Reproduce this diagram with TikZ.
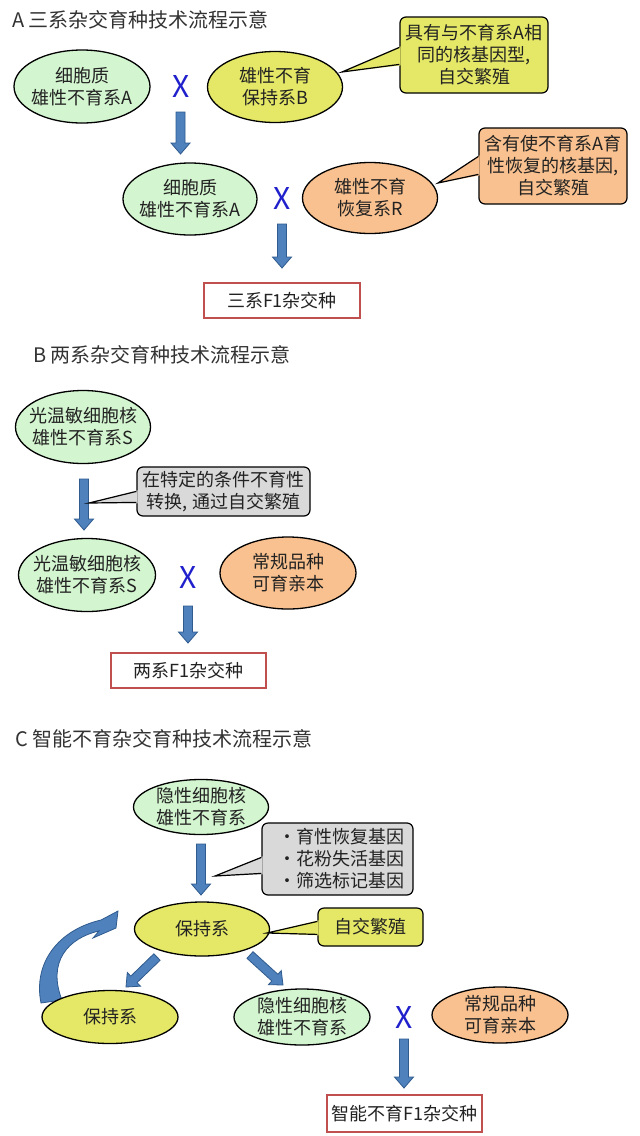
\documentclass[tikz,border=0pt]{standalone}
\usepackage{fontspec}
\setmainfont{Noto Sans CJK SC}
\usetikzlibrary{calc,shapes.geometric}
\definecolor{ggreen}{HTML}{D3F5CF}
\definecolor{gyellow}{HTML}{E5E866}
\definecolor{gorange}{HTML}{F9C18F}
\definecolor{ggray}{HTML}{D9D9D9}
\definecolor{abl}{HTML}{4F81BD}
\definecolor{abd}{HTML}{2F5B8E}
\definecolor{xblue}{HTML}{2020CC}
\definecolor{bred}{HTML}{C0504D}
\definecolor{txt}{HTML}{222222}
\newcommand{\blockarr}[2]{%
  \coordinate (hb) at ($(#2)!11pt!(#1)$);
  \filldraw[arrowstyle] ($(#1)!4.5pt!90:(#2)$) -- ($(hb)!4.5pt!90:(#2)$) -- ($(hb)!9.5pt!90:(#2)$) -- (#2) -- ($(hb)!9.5pt!-90:(#2)$) -- ($(hb)!4.5pt!-90:(#2)$) -- ($(#1)!4.5pt!-90:(#2)$) -- cycle;}
\begin{document}
\begin{tikzpicture}[x=1pt,y=-1pt,
  every node/.append style={text=txt, font=\fontsize{18pt}{22pt}\selectfont},
  ell/.style={ellipse, draw=black, line width=1.3pt, inner sep=0pt},
  etext/.style={align=center, inner sep=0pt},
  titletext/.style={anchor=west, inner sep=0pt, text=black!80, font=\fontsize{20pt}{22pt}\selectfont},
  cbox/.style={draw=black, line width=1.2pt, rounded corners=6pt, align=center, inner sep=0pt},
  cline/.style={draw=black, line width=1.2pt, line join=miter},
  rbox/.style={draw=bred, line width=1.5pt, fill=white, inner sep=0pt},
  cross/.style={text=xblue, inner sep=0pt, font=\fontsize{30pt}{30pt}\selectfont},
  arrowstyle/.style={fill=abl, draw=abd, line width=0.8pt, line join=miter}
]
\useasboundingbox[fill=white] (0,0) rectangle (640,1136);

% ---------------- A ----------------
\node[titletext] (titleA) at (12,20) {A 三系杂交育种技术流程示意};

\coordinate (a1s) at (180.5,112); \coordinate (a1t) at (180.5,154);
\blockarr{a1s}{a1t}
\coordinate (a2s) at (282,224); \coordinate (a2t) at (282,268);
\blockarr{a2s}{a2t}

\node[ell, fill=ggreen, minimum width=136pt, minimum height=73pt] (eA1) at (82,86.5) {};
\node[etext] (tA1) at (eA1) {细胞质\\雄性不育系A};
\node[cross] (xA1) at (181,87) {X};
\node[ell, fill=gyellow, minimum width=135pt, minimum height=71pt] (eB) at (275,87) {};
\node[etext] (tB) at (eB) {雄性不育\\保持系B};

\node[cbox, fill=gyellow, minimum width=148pt, minimum height=76pt] (cB) at (474,55) {具有与不育系A相\\同的核基因型,\\自交繁殖};
\coordinate (pB) at (342,72);
\fill[gyellow] ($(cB.north west)+(1.2,30)$) -- (pB) -- ($(cB.north west)+(1.2,49)$) -- cycle;
\draw[cline] ($(cB.north west)+(0,31)$) -- (pB) -- ($(cB.north west)+(0,48)$);

\node[ell, fill=ggreen, minimum width=134pt, minimum height=72pt] (eA2) at (190,199) {};
\node[etext] (tA2) at (eA2) {细胞质\\雄性不育系A};
\node[cross] (xA2) at (282,198) {X};
\node[ell, fill=gorange, minimum width=135pt, minimum height=71pt] (eR) at (370,198) {};
\node[etext] (tR) at (eR) {雄性不育\\恢复系R};

\node[cbox, fill=gorange, minimum width=148pt, minimum height=76pt] (cR) at (553,166) {含有使不育系A育\\性恢复的核基因,\\自交繁殖};
\coordinate (pR) at (438,183);
\fill[gorange] ($(cR.north west)+(1.2,28)$) -- (pR) -- ($(cR.north west)+(1.2,48)$) -- cycle;
\draw[cline] ($(cR.north west)+(0,29)$) -- (pR) -- ($(cR.north west)+(0,47)$);

\node[rbox, minimum width=156pt, minimum height=35pt] (fA) at (282,300.5) {三系F1杂交种};

% ---------------- B ----------------
\node[titletext] (titleB) at (33,355) {B 两系杂交育种技术流程示意};

\coordinate (b1s) at (84,479); \coordinate (b1t) at (84,530);
\blockarr{b1s}{b1t}
\coordinate (b2s) at (188,606); \coordinate (b2t) at (188,643);
\blockarr{b2s}{b2t}

\node[ell, fill=ggreen, minimum width=135pt, minimum height=73pt] (eS1) at (83,427) {};
\node[etext] (tS1) at (eS1) {光温敏细胞核\\雄性不育系S};

\node[cbox, fill=ggray, minimum width=173pt, minimum height=49pt] (cS) at (223.5,491.5) {在特定的条件不育性\\转换, 通过自交繁殖};
\coordinate (pS) at (89,503);
\fill[ggray] ($(cS.north west)+(1.2,24)$) -- (pS) -- ($(cS.north west)+(1.2,37)$) -- cycle;
\draw[cline] ($(cS.north west)+(0,25)$) -- (pS) -- ($(cS.north west)+(0,36)$);

\node[ell, fill=ggreen, minimum width=137pt, minimum height=73pt] (eS2) at (87,575) {};
\node[etext] (tS2) at (eS2) {光温敏细胞核\\雄性不育系S};
\node[cross] (xB) at (188,577) {X};
\node[ell, fill=gorange, minimum width=136pt, minimum height=72pt] (eOB) at (288,573) {};
\node[etext] (tOB) at (eOB) {常规品种\\可育亲本};

\node[rbox, minimum width=155pt, minimum height=35pt] (fB) at (188.5,670.5) {两系F1杂交种};

% ---------------- C ----------------
\node[titletext] (titleC) at (15,739) {C 智能不育杂交育种技术流程示意};

\coordinate (c1s) at (201,844); \coordinate (c1t) at (201,895);
\blockarr{c1s}{c1t}
\coordinate (dls) at (157,957); \coordinate (dlt) at (126,987);
\blockarr{dls}{dlt}
\coordinate (drs) at (250,955); \coordinate (drt) at (283,985);
\blockarr{drs}{drt}
\coordinate (c2s) at (404,1039); \coordinate (c2t) at (404,1088);
\blockarr{c2s}{c2t}

% curved return arrow
\coordinate (cvtip) at (118,911);
\filldraw[arrowstyle] (41,1003) .. controls (33,963) and (58,930) .. (101,920) -- (cvtip) -- (116,928) -- (93,938) -- (99,931) .. controls (68,938) and (47,962) .. (62,1000) -- cycle;

\node[ell, fill=ggreen, minimum width=135pt, minimum height=55pt] (eCT) at (201,807) {};
\node[etext] (tCT) at (eCT) {隐性细胞核\\雄性不育系};

\node[cbox, fill=ggray, minimum width=151pt, minimum height=72pt] (cG) at (337.5,859) {};
\node[align=left, inner sep=0pt] (tG) at (341,859) {·育性恢复基因\\·花粉失活基因\\·筛选标记基因};
\coordinate (pG) at (215,876);
\fill[ggray] ($(cG.north west)+(1.2,34)$) -- (pG) -- ($(cG.north west)+(1.2,52)$) -- cycle;
\draw[cline] ($(cG.north west)+(0,35)$) -- (pG) -- ($(cG.north west)+(0,51)$);

\node[ell, fill=gyellow, minimum width=135pt, minimum height=54pt] (eCK) at (202,929) {};
\node[etext] (tCK) at (eCK) {保持系};

\node[cbox, fill=gyellow, minimum width=105pt, minimum height=38pt] (cY) at (370.5,927) {自交繁殖};
\coordinate (pY) at (267,933);
\fill[gyellow] ($(cY.north west)+(1.2,13)$) -- (pY) -- ($(cY.north west)+(1.2,28)$) -- cycle;
\draw[cline] ($(cY.north west)+(0,14)$) -- (pY) -- ($(cY.north west)+(0,27)$);

\node[ell, fill=gyellow, minimum width=136pt, minimum height=53pt] (eCK2) at (110,1017) {};
\node[etext] (tCK2) at (eCK2) {保持系};
\node[ell, fill=ggreen, minimum width=136pt, minimum height=56pt] (eCG) at (302,1017) {};
\node[etext] (tCG) at (eCG) {隐性细胞核\\雄性不育系};
\node[cross] (xC) at (404,1017) {X};
\node[ell, fill=gorange, minimum width=136pt, minimum height=56pt] (eOC) at (500,1015) {};
\node[etext] (tOC) at (eOC) {常规品种\\可育亲本};

\node[rbox, minimum width=155pt, minimum height=37pt] (fC) at (404.5,1113.5) {智能不育F1杂交种};
\end{tikzpicture}
\end{document}
